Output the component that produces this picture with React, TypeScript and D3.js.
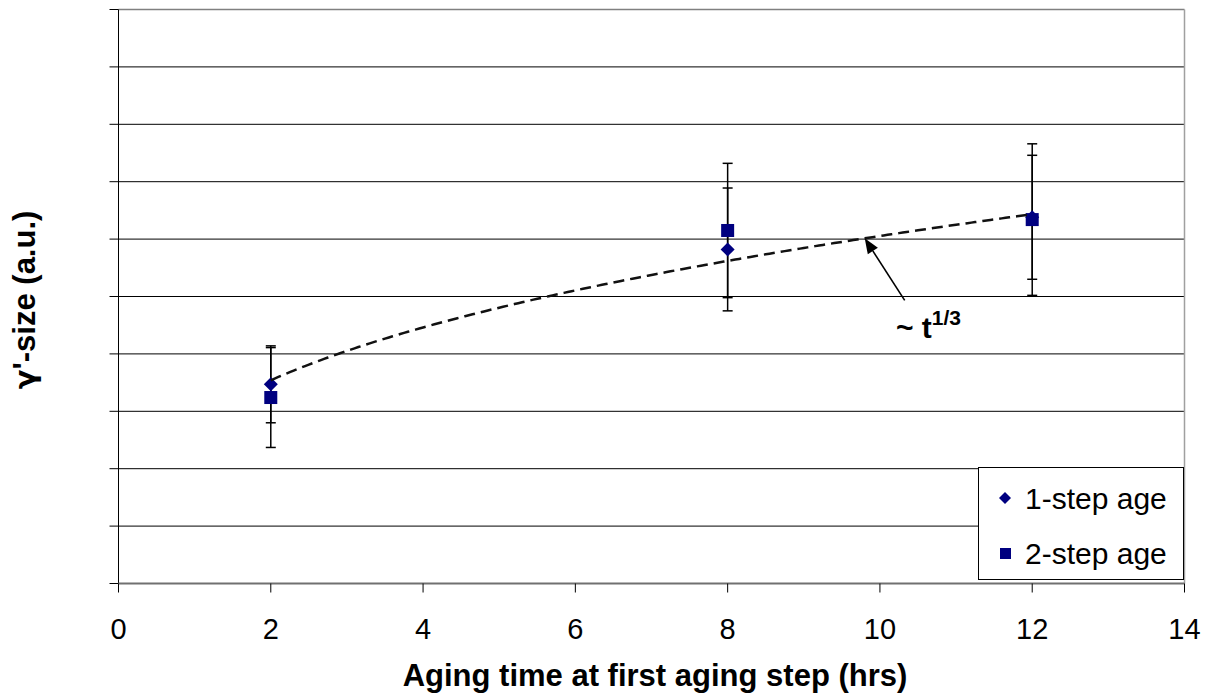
import React from "react";
import * as d3 from "d3";

const xTicks = [0, 2, 4, 6, 8, 10, 12, 14];
const yTicks = [0, 1, 2, 3, 4, 5, 6, 7, 8, 9, 10];
const agingTimes = [2, 8, 12];
const oneStepSize = [3.47, 5.82, 6.38];
const oneStepErr = [0.67, 1.07, 1.08];
const twoStepSize = [3.24, 6.15, 6.34];
const twoStepErr = [0.87, 1.17, 1.32];
const seriesNames = ["1-step age", "2-step age"];
const trendCoef = 2.81;
const trendExp = 1 / 3;
const trendRange = [2, 12];
const trendLabelAt = 9.8;

const W = 1207;
const H = 698;
const FONT = "'Liberation Sans', Arial, Helvetica, sans-serif";
const NAVY = "#000080";

export default function App() {
  const x = d3.scaleLinear().domain([0, 14]).range([118.5, 1184.5]);
  const y = d3.scaleLinear().domain([0, 10]).range([583.5, 9.5]);
  const trend = (t: number) => trendCoef * Math.pow(t, trendExp);
  const trendPts = d3.range(trendRange[0], trendRange[1] + 0.001, 0.05).map((t) => [t, trend(t)] as [number, number]);
  const line = d3.line<[number, number]>().x((d) => x(d[0])).y((d) => y(d[1]));

  const diamond = (cx: number, cy: number, r: number) =>
    `M${cx},${cy - r}L${cx + r},${cy}L${cx},${cy + r}L${cx - r},${cy}Z`;

  const errBar = (t: number, v: number, e: number, key: string) => {
    const cx = x(t);
    const y0 = y(v + e);
    const y1 = y(v - e);
    return (
      <g key={key} stroke="#000" strokeWidth={1.5}>
        <line x1={cx} x2={cx} y1={y0} y2={y1} />
        <line x1={cx - 5} x2={cx + 5} y1={y0} y2={y0} />
        <line x1={cx - 5} x2={cx + 5} y1={y1} y2={y1} />
      </g>
    );
  };

  const tipX = x(trendLabelAt);
  const tipY = y(trend(trendLabelAt));
  const tailX = tipX + 40;
  const tailY = tipY + 62;
  const ang = Math.atan2(tipY - tailY, tipX - tailX);
  const ah = 15;
  const aw = 6;
  const bx = tipX - ah * Math.cos(ang);
  const by = tipY - ah * Math.sin(ang);
  const arrowHead = `M${tipX},${tipY}L${bx + aw * Math.sin(ang)},${by - aw * Math.cos(ang)}L${bx - aw * Math.sin(ang)},${by + aw * Math.cos(ang)}Z`;

  return (
    <svg width={W} height={H} style={{ position: "absolute", left: 0, top: 0, background: "#fff" }} fontFamily={FONT}>
      {/* gridlines */}
      {yTicks.slice(1, -1).map((v) => (
        <line key={"g" + v} x1={x(0)} x2={x(14)} y1={y(v)} y2={y(v)} stroke="#000" strokeWidth={1} />
      ))}
      {/* plot border */}
      <line x1={x(0)} x2={x(14)} y1={y(10)} y2={y(10)} stroke="#808080" strokeWidth={1.5} />
      <line x1={x(14)} x2={x(14)} y1={y(10)} y2={y(0)} stroke="#a0a0a0" strokeWidth={1.5} />
      {/* y axis */}
      <line x1={x(0)} x2={x(0)} y1={y(10)} y2={y(0)} stroke="#000" strokeWidth={1} />
      {yTicks.map((v) => (
        <line key={"yt" + v} x1={x(0) - 9} x2={x(0)} y1={y(v)} y2={y(v)} stroke="#000" strokeWidth={1} />
      ))}
      {/* x axis */}
      <line x1={x(0)} x2={x(14)} y1={y(0)} y2={y(0)} stroke="#707070" strokeWidth={2} />
      {xTicks.map((v) => (
        <g key={"xt" + v}>
          <line x1={x(v)} x2={x(v)} y1={y(0)} y2={y(0) + 9} stroke="#000" strokeWidth={1} />
          <text x={x(v)} y={639} textAnchor="middle" fontSize={29} fill="#000">
            {v}
          </text>
        </g>
      ))}
      {/* error bars */}
      {agingTimes.map((t, i) => errBar(t, oneStepSize[i], oneStepErr[i], "e1" + i))}
      {agingTimes.map((t, i) => errBar(t, twoStepSize[i], twoStepErr[i], "e2" + i))}
      {/* markers */}
      {agingTimes.map((t, i) => (
        <path key={"d" + i} d={diamond(x(t), y(oneStepSize[i]), 7)} fill={NAVY} />
      ))}
      {agingTimes.map((t, i) => (
        <rect key={"s" + i} x={x(t) - 6.5} y={y(twoStepSize[i]) - 6.5} width={13} height={13} fill={NAVY} />
      ))}
      {/* trend line */}
      <path d={line(trendPts) || ""} fill="none" stroke="#111" strokeWidth={2.5} strokeDasharray="11,6" />
      {/* annotation */}
      <line x1={tailX} y1={tailY} x2={bx} y2={by} stroke="#000" strokeWidth={1.6} />
      <path d={arrowHead} fill="#000" />
      <text x={896} y={338} fontSize={30} fontWeight="bold" fill="#000">
        ~ t
        <tspan dy={-13} fontSize={21}>
          1/3
        </tspan>
      </text>
      {/* legend */}
      <rect x={978.5} y={467.5} width={205} height={112} fill="#fff" stroke="#000" strokeWidth={1} />
      <path d={diamond(1005, 498, 6)} fill={NAVY} />
      <text x={1025} y={509} fontSize={30} fill="#000">
        {seriesNames[0]}
      </text>
      <rect x={1000} y={548} width={11} height={11} fill={NAVY} />
      <text x={1025} y={564} fontSize={30} fill="#000">
        {seriesNames[1]}
      </text>
      {/* axis titles */}
      <text x={655} y={686} textAnchor="middle" fontSize={31} fontWeight="bold" fill="#000">
        Aging time at first aging step (hrs)
      </text>
      <text
        transform={`translate(35,${300}) rotate(-90)`}
        textAnchor="middle"
        fontSize={31}
        fontWeight="bold"
        fill="#000"
      >
        <tspan fontFamily="'DejaVu Sans', sans-serif" fontSize={29}>γ</tspan>'-size (a.u.)
      </text>
    </svg>
  );
}
